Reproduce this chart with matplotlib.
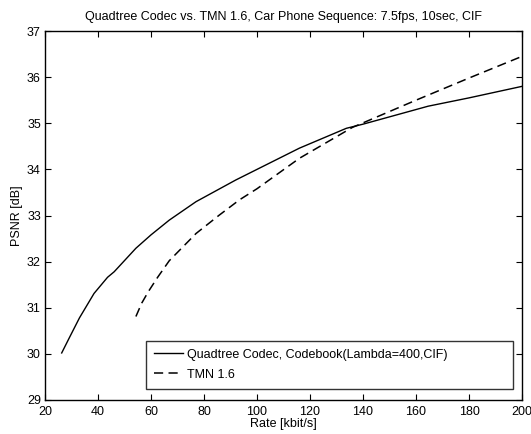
import matplotlib
matplotlib.use("Agg")
import matplotlib.pyplot as plt

plt.rcParams['font.family'] = ['Liberation Sans', 'DejaVu Sans']

# Quadtree codec (solid)
qt_rate = [26.3, 29.1, 33.0, 38.5, 43.6, 46.1, 54.3, 60.0, 66.9, 77.0, 92.0, 100.0,
           116.0, 133.7, 140.0, 164.6, 180.0, 200.0]
qt_psnr = [30.02, 30.34, 30.78, 31.31, 31.66, 31.78, 32.29, 32.58, 32.90, 33.30, 33.77, 34.00,
           34.46, 34.89, 34.98, 35.37, 35.55, 35.80]

# TMN 1.6 (dashed)
tmn_rate = [54.3, 56.5, 59.0, 62.5, 66.9, 77.0, 85.8, 93.4, 100.0, 116.0, 136.0, 160.0, 180.0, 200.0]
tmn_psnr = [30.81, 31.10, 31.35, 31.66, 32.02, 32.61, 33.01, 33.34, 33.58, 34.24, 34.91, 35.50, 35.98, 36.45]

xticks = [20, 40, 60, 80, 100, 120, 140, 160, 180, 200]
yticks = [29, 30, 31, 32, 33, 34, 35, 36, 37]

labels = ['Quadtree Codec, Codebook(Lambda=400,CIF)', 'TMN 1.6']
title = 'Quadtree Codec vs. TMN 1.6, Car Phone Sequence: 7.5fps, 10sec, CIF'

W, H = 531, 434
fig = plt.figure(figsize=(W / 100, H / 100), dpi=100)
ax = fig.add_axes([45 / W, (H - 400) / H, 477 / W, 369 / H])

ax.plot(qt_rate, qt_psnr, color='black', lw=1.0, ls='-', label=labels[0])
ax.plot(tmn_rate, tmn_psnr, color='black', lw=1.1, ls=(0, (6, 3.5)), label=labels[1])

ax.set_xlim(20, 200)
ax.set_ylim(29, 37)
ax.set_xticks(xticks)
ax.set_yticks(yticks)
ax.tick_params(direction='in', top=True, right=True, length=4, width=0.8,
               labelsize=9, pad=3)
ax.tick_params(axis='x', pad=4.5)
for s in ax.spines.values():
    s.set_linewidth(1.0)
    s.set_color('black')

ax.set_xlabel('Rate [kbit/s]', fontsize=9, labelpad=0)
ax.set_ylabel('PSNR [dB]', fontsize=9, labelpad=3)
ax.set_title(title, fontsize=9, pad=8)

leg = ax.legend(loc='lower left', bbox_to_anchor=(0.212, 0.030, 0.769, 0.138),
                mode='expand', fontsize=9, frameon=True, fancybox=False,
                edgecolor='black', handlelength=2.3, handletextpad=0.35,
                borderpad=0.65, labelspacing=0.65, borderaxespad=0)
leg.get_frame().set_linewidth(1.0)

fig.savefig('out.png', dpi=100)
